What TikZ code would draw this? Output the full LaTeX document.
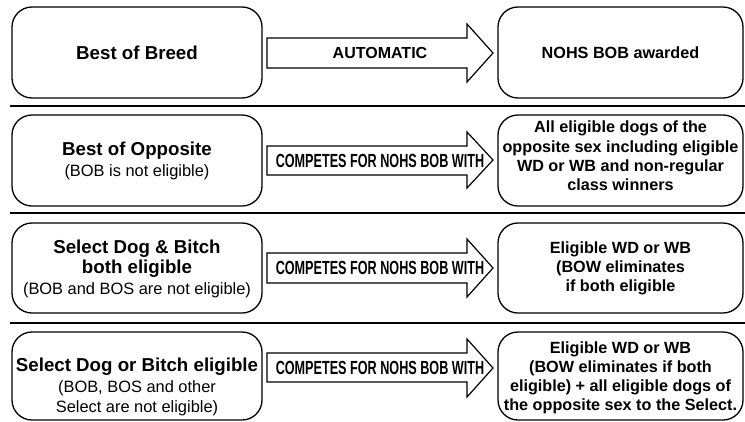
\documentclass[tikz,border=0pt]{standalone}
\usepackage{fontspec}
\setmainfont{Liberation Sans}
\usepackage{graphicx}
\newcommand\hdtxt{\bfseries\fontsize{18.7}{21}\selectfont}
\newcommand\subtxt{\mdseries\fontsize{16.4}{20}\selectfont}
\newcommand\comptxt{\scalebox{0.665}[1]{\bfseries\fontsize{19}{20}\selectfont COMPETES FOR NOHS BOB WITH}}
\tikzset{
  box/.style={draw, line width=1.3pt, rounded corners=20pt, align=center, inner sep=0pt},
  lbox/.style={box, minimum width=250pt, font=\fontsize{18.7}{21}\selectfont},
  rbox/.style={box, minimum width=245pt},
  rtext/.style={align=center, inner sep=0pt, font=\bfseries\fontsize{16.2}{19.2}\selectfont},
  ltext/.style={align=center, inner sep=0pt, font=\fontsize{18.7}{20.5}\selectfont},
  blockarrow/.style={draw, line width=1.2pt, line join=miter},
  divider/.style={line width=2pt},
  atext/.style={inner sep=0pt, font=\bfseries\fontsize{16}{19}\selectfont},
}
\begin{document}
\begin{tikzpicture}[x=1pt,y=-1pt]
\useasboundingbox (0,0) rectangle (745,421);

% Row 1
\node[lbox, minimum height=91pt] (l1) at (137,52.5) {};
\node[ltext] (l1t) at (137,52.5) {\hdtxt Best of Breed};
\node[rbox, minimum height=91pt] (r1) at (620.5,52.5) {};
\node[rtext] (r1t) at (620.5,52.5) {NOHS BOB awarded};
\draw[blockarrow] (267,38) -- (467,38) -- (467,24) -- (493,53) -- (467,82) -- (467,68) -- (267,68) -- cycle;
\node[atext] (a1) at (380,53) {AUTOMATIC};

\draw[divider] (10,106) coordinate (d1a) -- (745,106) coordinate (d1b);

% Row 2
\node[lbox, minimum height=91pt] (l2) at (137,160.5) {};
\node[ltext] (l2t) at (137,161) {\hdtxt Best of Opposite\\ \subtxt (BOB is not eligible)};
\node[rbox, minimum height=91pt] (r2) at (620.5,160.5) {};
\node[rtext] (r2t) at (620.5,156) {All eligible dogs of the\\ opposite sex including eligible\\ WD or WB and non-regular\\ class winners};
\draw[blockarrow] (267,146) -- (467,146) -- (467,132) -- (493,160) -- (467,188) -- (467,175) -- (267,175) -- cycle;
\node[atext] (a2) at (380,160.5) {\comptxt};

\draw[divider] (10,213) coordinate (d2a) -- (745,213) coordinate (d2b);

% Row 3
\node[lbox, minimum height=90pt] (l3) at (137,268) {};
\node[ltext] (l3t) at (137,268.5) {\hdtxt Select Dog \& Bitch\\ \hdtxt both eligible\\ \subtxt (BOB and BOS are not eligible)};
\node[rbox, minimum height=90pt] (r3) at (620.5,268) {};
\node[rtext] (r3t) at (620.5,268.5) {Eligible WD or WB\\ (BOW eliminates\\ if both eligible};
\draw[blockarrow] (267,253) -- (467,253) -- (467,239) -- (493,268) -- (467,297) -- (467,283) -- (267,283) -- cycle;
\node[atext] (a3) at (380,268) {\comptxt};

\draw[divider] (10,323) coordinate (d3a) -- (745,323) coordinate (d3b);

% Row 4
\node[lbox, minimum height=88pt] (l4) at (137,376) {};
\node[ltext] (l4t) at (137,387) {\hdtxt Select Dog or Bitch eligible\\ \subtxt (BOB, BOS and other\\ \subtxt Select are not eligible)};
\node[rbox, minimum height=88pt] (r4) at (620.5,376) {};
\node[rtext] (r4t) at (620.5,378) {Eligible WD or WB\\ (BOW eliminates if both\\ eligible) + all eligible dogs of\\ the opposite sex to the Select.};
\draw[blockarrow] (267,353) -- (467,353) -- (467,339) -- (493,368) -- (467,397) -- (467,382) -- (267,382) -- cycle;
\node[atext] (a4) at (380,368) {\comptxt};
\end{tikzpicture}
\end{document}
